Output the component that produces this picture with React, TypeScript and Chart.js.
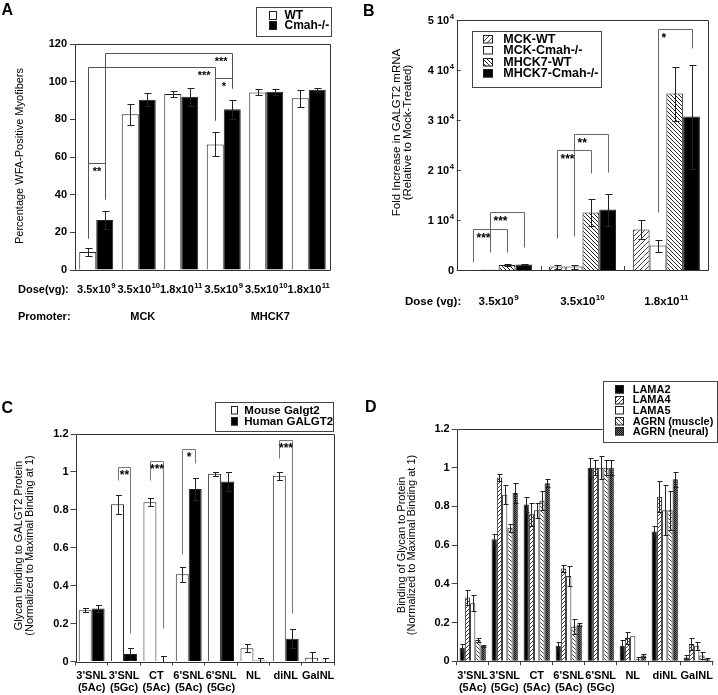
import React, { useEffect, useRef } from 'react';
import { Chart, registerables } from 'chart.js';
Chart.register(...registerables);

const FONT = '"Liberation Sans", Arimo, Arial, Helvetica, sans-serif';

// ---------------- Panel A data ----------------
const doseA = ['3.5x10^9', '3.5x10^10', '1.8x10^11', '3.5x10^9', '3.5x10^10', '1.8x10^11'];
const promoterA = ['MCK', 'MHCK7'];
const promoterGroupA = [1, 4];
const seriesA = ['WT', 'Cmah-/-'];
const wtA = [9.5, 82.7, 93.5, 66.7, 94.3, 91.2];
const wtErrA = [2, 5.6, 1.5, 6.4, 1.6, 4.6];
const cmahA = [26.5, 90.4, 92, 85.3, 94.7, 95.7];
const cmahErrA = [4.7, 3.4, 4.8, 5, 1.6, 1.1];
const yTitleA = ['Percentage WFA-Positive Myofibers'];
const sigA = [
  { a: [0, 0, 17], b: [1, 0, 37.7], top: 56.7, label: '**', align: 'center' },
  { a: [0, 0, 17], b: [0, 3, 79.5], top: 107.8, label: '***', align: 'right' },
  { a: [1, 0, 37.7], b: [1, 3, 96.5], top: 115.4, label: '***', align: 'right' },
  { a: [0, 3, 79.5], b: [1, 3, 96.5], top: 101.8, label: '*', align: 'center' },
];

// ---------------- Panel B data ----------------
const doseB = ['3.5x10^9', '3.5x10^10', '1.8x10^11'];
const seriesB = ['MCK-WT', 'MCK-Cmah-/-', 'MHCK7-WT', 'MHCK7-Cmah-/-'];
const mckWtB = [60, 700, 8100];
const mckWtErrB = [0, 400, 1900];
const mckCmahB = [80, 700, 4900];
const mckCmahErrB = [0, 400, 1200];
const mhWtB = [1000, 11500, 35300];
const mhWtErrB = [150, 2700, 5400];
const mhCmahB = [1100, 12100, 30700];
const mhCmahErrB = [100, 3200, 10400];
const yTitleB = ['Fold Increase in GALGT2 mRNA', '(Relative to Mock-Treated)'];
const sigB = [
  { a: [0, 0, 1660], b: [2, 0, 3660], top: 8140, label: '***', align: 'left' },
  { a: [1, 0, 3660], b: [3, 0, 4540], top: 11540, label: '***', align: 'left' },
  { a: [0, 1, 6340], b: [2, 1, 19340], top: 24000, label: '***', align: 'left' },
  { a: [1, 1, 6800], b: [3, 1, 19660], top: 27200, label: '**', align: 'left' },
  { a: [1, 2, 11660], b: [3, 2, 44340], top: 48140, label: '*', align: 'left' },
];

// ---------------- Panel C data ----------------
const glycans = [["3'SNL", '(5Ac)'], ["3'SNL", '(5Gc)'], ['CT', '(5Ac)'], ["6'SNL", '(5Ac)'], ["6'SNL", '(5Gc)'], 'NL', 'diNL', 'GalNL'];
const seriesC = ['Mouse Galgt2', 'Human GALGT2'];
const mouseC = [0.27, 0.83, 0.84, 0.46, 0.99, 0.07, 0.98, 0.02];
const mouseErrC = [0.01, 0.05, 0.02, 0.04, 0.01, 0.02, 0.02, 0.03];
const humanC = [0.28, 0.04, 0.0, 0.91, 0.95, 0.005, 0.12, 0.0];
const humanErrC = [0.02, 0.03, 0.03, 0.06, 0.05, 0.012, 0.05, 0.017];
const yTitleC = ['Glycan binding to GALGT2 Protein', '(Normalized to Maximal Binding at 1)'];
const sigC = [
  { a: [0, 1, 0.957], b: [1, 1, 0.152], top: 1.024, label: '**', align: 'center' },
  { a: [0, 2, 0.957], b: [1, 2, 0.176], top: 1.057, label: '***', align: 'center' },
  { a: [0, 3, 0.567], b: [1, 3, 1.045], top: 1.119, label: '*', align: 'center' },
  { a: [0, 6, 1.075], b: [1, 6, 0.254], top: 1.168, label: '***', align: 'center' },
];

// ---------------- Panel D data ----------------
const seriesD = ['LAMA2', 'LAMA4', 'LAMA5', 'AGRN (muscle)', 'AGRN (neural)'];
const lama2D = [0.07, 0.63, 0.81, 0.08, 1.0, 0.08, 0.67, 0.02];
const lama2ErrD = [0.02, 0.03, 0.04, 0.02, 0.05, 0.03, 0.03, 0.01];
const lama4D = [0.33, 0.95, 0.76, 0.48, 1.0, 0.12, 0.85, 0.09];
const lama4ErrD = [0.04, 0.02, 0.06, 0.02, 0.04, 0.03, 0.08, 0.03];
const lama5D = [0.3, 0.86, 0.78, 0.44, 1.0, 0.13, 0.78, 0.08];
const lama5ErrD = [0.04, 0.05, 0.04, 0.05, 0.06, 0, 0.13, 0.02];
const agrnMD = [0.11, 0.69, 0.83, 0.18, 1.0, 0.01, 0.78, 0.03];
const agrnMErrD = [0.01, 0.02, 0.05, 0.04, 0.04, 0.012, 0.1, 0.02];
const agrnND = [0.08, 0.87, 0.92, 0.19, 1.0, 0.03, 0.94, 0.01];
const agrnNErrD = [0.005, 0.05, 0.02, 0.01, 0.04, 0.01, 0.04, 0.007];
const yTitleD = ['Binding of Glycan to Protein', '(Normalized to Maximal Binding at 1)'];

// ---------------- helpers ----------------
const snap = (v: number) => Math.round(v) + 0.5;

function drawSup(ctx: any, text: string, x: number, y: number, align: string, size: number, weight: string) {
  const parts = String(text).split('^');
  const base = parts[0];
  const sup = parts[1] || '';
  const supSize = size * 0.7;
  ctx.font = `${weight} ${size}px ${FONT}`;
  const w1 = ctx.measureText(base).width;
  ctx.font = `${weight} ${supSize}px ${FONT}`;
  const w2 = sup ? ctx.measureText(sup).width + 0.5 : 0;
  const tot = w1 + w2;
  const sx = align === 'center' ? x - tot / 2 : align === 'right' ? x - tot : x;
  ctx.textAlign = 'left';
  ctx.textBaseline = 'alphabetic';
  ctx.fillStyle = '#000';
  ctx.font = `${weight} ${size}px ${FONT}`;
  ctx.fillText(base, sx, y);
  if (sup) {
    ctx.font = `${weight} ${supSize}px ${FONT}`;
    ctx.fillText(sup, sx + w1 + 0.5, y - size * 0.42);
  }
}

function hatch(ctx: any, size: number, dir: string, color: string) {
  const c = document.createElement('canvas');
  c.width = size;
  c.height = size;
  const g = c.getContext('2d')!;
  g.fillStyle = '#fff';
  g.fillRect(0, 0, size, size);
  g.strokeStyle = color;
  g.lineWidth = 1;
  g.beginPath();
  if (dir === '/') {
    g.moveTo(-1, size + 1); g.lineTo(size + 1, -1);
    g.moveTo(-1, 1); g.lineTo(1, -1);
    g.moveTo(size - 1, size + 1); g.lineTo(size + 1, size - 1);
  } else {
    g.moveTo(-1, -1); g.lineTo(size + 1, size + 1);
    g.moveTo(-1, size - 1); g.lineTo(1, size + 1);
    g.moveTo(size - 1, -1); g.lineTo(size + 1, 1);
  }
  g.stroke();
  return ctx.createPattern(c, 'repeat');
}

function checker(ctx: any) {
  const c = document.createElement('canvas');
  c.width = 2;
  c.height = 2;
  const g = c.getContext('2d')!;
  g.fillStyle = '#111';
  g.fillRect(0, 0, 2, 2);
  g.fillStyle = '#6a6a6a';
  g.fillRect(1, 0, 1, 1);
  g.fillRect(0, 1, 1, 1);
  return ctx.createPattern(c, 'repeat');
}

const decor = {
  id: 'decor',
  afterDatasetsDraw(chart: any, _a: any, o: any) {
    const ctx = chart.ctx;
    const ys = chart.scales.y;
    ctx.save();
    ctx.strokeStyle = '#222';
    ctx.lineWidth = 1;
    (o.errors || []).forEach((errs: number[], di: number) => {
      const meta = chart.getDatasetMeta(di);
      const vals = chart.data.datasets[di].data as number[];
      errs.forEach((e, i) => {
        if (!e) return;
        const x = snap(meta.data[i].x);
        const y1 = snap(ys.getPixelForValue(vals[i] + e));
        const y2 = snap(ys.getPixelForValue(Math.max(0, vals[i] - e)));
        const c = o.cap;
        ctx.beginPath();
        ctx.moveTo(x, y1); ctx.lineTo(x, y2);
        ctx.moveTo(x - c, y1); ctx.lineTo(x + c + 1, y1);
        ctx.moveTo(x - c, y2); ctx.lineTo(x + c + 1, y2);
        ctx.stroke();
      });
    });
    ctx.restore();
  },
  afterDraw(chart: any, _a: any, o: any) {
    const ctx = chart.ctx;
    const ca = chart.chartArea;
    const xs = chart.scales.x;
    const ys = chart.scales.y;
    ctx.save();
    ctx.lineWidth = 1;
    if (o.innerTicks) {
      ctx.strokeStyle = '#444';
      ctx.beginPath();
      const n = chart.data.labels.length;
      for (let i = 1; i < n; i++) {
        const x = snap((xs.getPixelForValue(i - 1) + xs.getPixelForValue(i)) / 2);
        ctx.moveTo(x, ca.bottom);
        ctx.lineTo(x, ca.bottom - o.innerTicks);
      }
      ys.ticks.forEach((t: any) => {
        const y = snap(ys.getPixelForValue(t.value));
        ctx.moveTo(ca.left, y);
        ctx.lineTo(ca.left + o.innerTicks, y);
      });
      ctx.stroke();
    }
    if (o.frame) {
      const l = snap(ca.left), r = snap(ca.right), t = snap(ca.top), b = snap(ca.bottom);
      ctx.strokeStyle = '#333';
      ctx.beginPath();
      if (o.frame.includes('t')) { ctx.moveTo(l, t); ctx.lineTo(r, t); }
      if (o.frame.includes('r')) { ctx.moveTo(r, t); ctx.lineTo(r, b); }
      if (o.frame.includes('b')) { ctx.moveTo(l, b); ctx.lineTo(r, b); }
      if (o.frame.includes('l')) { ctx.moveTo(l, t); ctx.lineTo(l, b); }
      ctx.stroke();
    }
    (o.brackets || []).forEach((br: any) => {
      const pa = snap(chart.getDatasetMeta(br.a[0]).data[br.a[1]].x);
      const pb = snap(chart.getDatasetMeta(br.b[0]).data[br.b[1]].x);
      const yt = snap(ys.getPixelForValue(br.top));
      const ya = snap(ys.getPixelForValue(br.a[2]));
      const yb = snap(ys.getPixelForValue(br.b[2]));
      ctx.strokeStyle = o.bracketColor;
      ctx.beginPath();
      ctx.moveTo(pa, ya); ctx.lineTo(pa, yt); ctx.lineTo(pb, yt); ctx.lineTo(pb, yb);
      ctx.stroke();
      ctx.font = `bold ${o.starSize}px ${FONT}`;
      const m = ctx.measureText(br.label);
      const w = m.width;
      const lx = br.align === 'left' ? pa + o.starGap : br.align === 'right' ? pb - o.starGap - w : (pa + pb) / 2 - w / 2;
      const cy = yt + o.starDy;
      const base = cy + (m.actualBoundingBoxAscent - m.actualBoundingBoxDescent) / 2;
      ctx.fillStyle = '#000';
      ctx.textAlign = 'left';
      ctx.textBaseline = 'alphabetic';
      ctx.fillText(br.label, lx, base);
    });
    if (o.yTickSup) {
      ys.ticks.forEach((t: any) => {
        drawSup(ctx, t.label, o.yTickSup.x, ys.getPixelForValue(t.value) + o.yTickSup.dy, 'right', o.yTickSup.size, 'bold');
      });
    }
    if (o.xSup) {
      chart.data.labels.forEach((lab: string, i: number) => {
        drawSup(ctx, lab, xs.getPixelForValue(i), o.xSup.y, 'center', o.xSup.size, o.xSup.weight);
      });
    }
    (o.rows || []).forEach((r: any) => {
      ctx.font = `bold ${o.rowSize}px ${FONT}`;
      ctx.fillStyle = '#000';
      ctx.textAlign = 'left';
      ctx.textBaseline = 'alphabetic';
      ctx.fillText(r.text, r.x, r.y);
    });
    if (o.groups) {
      const G = o.groups;
      ctx.font = `bold ${G.size}px ${FONT}`;
      ctx.fillStyle = '#000';
      ctx.textAlign = 'center';
      ctx.textBaseline = 'alphabetic';
      G.labels.forEach((s: string, i: number) => {
        ctx.fillText(s, xs.getPixelForValue(G.at[i]) + G.dx, G.y);
      });
    }
    if (o.yTitle) {
      const T = o.yTitle;
      ctx.font = `${T.size}px ${FONT}`;
      ctx.fillStyle = '#000';
      ctx.textAlign = 'center';
      ctx.textBaseline = 'middle';
      T.lines.forEach((s: string, i: number) => {
        ctx.save();
        ctx.translate(T.x[i], T.y);
        ctx.rotate(-Math.PI / 2);
        ctx.fillText(s, 0, 0);
        ctx.restore();
      });
    }
    if (o.letter) {
      ctx.font = `bold ${o.letter.size}px ${FONT}`;
      ctx.fillStyle = '#000';
      ctx.textAlign = 'left';
      ctx.textBaseline = 'alphabetic';
      ctx.fillText(o.letter.text, o.letter.x, o.letter.y);
    }
    if (o.legend) {
      const L = o.legend;
      const [x1, y1, x2, y2] = L.box;
      ctx.fillStyle = '#fff';
      ctx.fillRect(x1, y1, x2 - x1, y2 - y1);
      ctx.strokeStyle = '#444';
      ctx.strokeRect(snap(x1), snap(y1), Math.round(x2 - x1), Math.round(y2 - y1));
      chart.data.datasets.forEach((ds: any, i: number) => {
        const cy = L.rows[i];
        const sx = Math.round(L.swX);
        const sy = Math.round(cy - L.swH / 2);
        ctx.fillStyle = ds.backgroundColor;
        ctx.fillRect(sx, sy, L.swW, L.swH);
        ctx.strokeStyle = '#222';
        ctx.strokeRect(sx + 0.5, sy + 0.5, L.swW - 1, L.swH - 1);
        ctx.fillStyle = '#000';
        ctx.font = `bold ${L.size}px ${FONT}`;
        ctx.textAlign = 'left';
        ctx.textBaseline = 'middle';
        ctx.fillText(ds.label, L.textX, cy + 0.5);
      });
    }
    ctx.restore();
  },
};

const bar = (label: string, data: number[], fill: any) => ({
  label,
  data,
  backgroundColor: fill,
  borderColor: '#222',
  borderWidth: 1,
});

function makeConfig(p: any) {
  const xScale: any = {
    grid: p.xGrid
      ? { display: true, offset: true, drawOnChartArea: false, drawTicks: true, tickLength: 4, color: '#444', lineWidth: 1 }
      : { display: false },
    border: { display: false },
    ticks: p.xTicks
      ? { display: true, autoSkip: false, maxRotation: 0, minRotation: 0, padding: 5, color: '#000', font: { family: FONT, size: 11, weight: 'bold', lineHeight: 1.05 } }
      : { display: false },
    afterFit: (s: any) => { s.height = p.xHeight; },
  };
  const yScale: any = {
    min: p.y.min,
    max: p.y.max,
    grid: p.y.inner
      ? { display: false }
      : { display: true, drawOnChartArea: false, drawTicks: true, tickLength: 5, color: '#444', lineWidth: 1 },
    border: { display: false },
    ticks: {
      display: !p.y.custom,
      stepSize: p.y.step,
      padding: p.y.pad,
      color: '#000',
      font: { family: FONT, size: p.y.size, weight: 'bold' },
      callback: p.y.cb,
    },
    afterFit: (s: any) => { s.width = p.y.width; },
  };
  return {
    type: 'bar',
    data: { labels: p.labels, datasets: p.datasets },
    options: {
      responsive: false,
      animation: false,
      devicePixelRatio: 1,
      events: [],
      layout: { padding: { top: p.padTop, right: p.padRight, left: 0, bottom: 0 } },
      datasets: { bar: { categoryPercentage: p.catPct, barPercentage: 1 } },
      scales: { x: xScale, y: yScale },
      plugins: { legend: { display: false }, tooltip: { enabled: false }, decor: p.decor },
    },
    plugins: [decor],
  };
}

const dec1 = (v: number) => String(Math.round(v * 10) / 10);

function configA(_ctx: any) {
  return makeConfig({
    labels: doseA,
    datasets: [bar(seriesA[0], wtA, '#fff'), bar(seriesA[1], cmahA, '#000')],
    y: { min: 0, max: 120, step: 20, width: 75, pad: 3, size: 11, cb: (v: number) => String(v) },
    xHeight: 80, padTop: 44, padRight: 30, catPct: 0.8,
    decor: {
      errors: [wtErrA, cmahErrA], cap: 3, frame: 'trbl',
      brackets: sigA, bracketColor: '#555', starSize: 11, starDy: 5.8, starGap: 5,
      xSup: { y: 293, size: 11, weight: 'bold' },
      rows: [{ text: 'Dose(vg):', x: 18, y: 293 }, { text: 'Promoter:', x: 18, y: 319.5 }], rowSize: 11,
      groups: { labels: promoterA, at: promoterGroupA, dx: 4, y: 319.5, size: 11 },
      yTitle: { lines: yTitleA, x: [20], y: 156, size: 11 },
      letter: { text: 'A', x: 1.5, y: 15, size: 16 },
      legend: { box: [255.5, 6.5, 330, 35.5], swX: 269, swW: 8, swH: 9, textX: 284.5, rows: [15.3, 25.3], size: 12 },
    },
  });
}

function configB(ctx: any) {
  return makeConfig({
    labels: doseB,
    datasets: [
      bar(seriesB[0], mckWtB, hatch(ctx, 5, '/', '#444')),
      bar(seriesB[1], mckCmahB, '#fff'),
      bar(seriesB[2], mhWtB, hatch(ctx, 4, '\\', '#222')),
      bar(seriesB[3], mhCmahB, '#000'),
    ],
    y: { min: 0, max: 50000, step: 10000, width: 96.7, pad: 3, size: 11, custom: true, inner: true,
      cb: (v: number) => (v === 0 ? '0' : `${v / 10000} 10^4`) },
    xHeight: 80, padTop: 20, padRight: 9.7, catPct: 0.8,
    decor: {
      errors: [mckWtErrB, mckCmahErrB, mhWtErrB, mhCmahErrB], cap: 3, frame: 'trbl', innerTicks: 4,
      yTickSup: { x: 94, dy: 4, size: 11 },
      brackets: sigB, bracketColor: '#666', starSize: 12, starDy: 5.5, starGap: 3,
      xSup: { y: 305, size: 11.5, weight: 'bold' },
      rows: [{ text: 'Dose (vg):', x: 45, y: 305 }], rowSize: 11.5,
      yTitle: { lines: yTitleB, x: [37, 47.5], y: 132.5, size: 11.5 },
      letter: { text: 'B', x: 3, y: 15.5, size: 16 },
      legend: { box: [111.7, 30.7, 240.7, 86.7], swX: 123.3, swW: 10, swH: 8.5, textX: 143.3, rows: [39.5, 50.5, 61.8, 73.3], size: 12.5 },
    },
  });
}

function configC(_ctx: any) {
  return makeConfig({
    labels: glycans,
    datasets: [bar(seriesC[0], mouseC, '#fff'), bar(seriesC[1], humanC, '#000')],
    y: { min: 0, max: 1.2, step: 0.2, width: 75.5, pad: 2, size: 11, cb: dec1 },
    xHeight: 33.5, padTop: 84, padRight: 25.7, catPct: 0.8, xGrid: true, xTicks: true,
    decor: {
      errors: [mouseErrC, humanErrC], cap: 2.5, frame: 'trbl',
      brackets: sigC, bracketColor: '#777', starSize: 12, starDy: 5, starGap: 2,
      yTitle: { lines: yTitleC, x: [18.5, 29.5], y: 195.5, size: 11 },
      letter: { text: 'C', x: 1.5, y: 62.5, size: 16 },
      legend: { box: [215, 52.3, 333.3, 81], swX: 230.5, swW: 7, swH: 8.5, textX: 244.3, rows: [60.5, 71.5], size: 11.5 },
    },
  });
}

function configD(ctx: any) {
  return makeConfig({
    labels: glycans,
    datasets: [
      bar(seriesD[0], lama2D, '#000'),
      bar(seriesD[1], lama4D, hatch(ctx, 4, '/', '#444')),
      bar(seriesD[2], lama5D, '#fff'),
      bar(seriesD[3], agrnMD, hatch(ctx, 4, '\\', '#444')),
      bar(seriesD[4], agrnND, checker(ctx)),
    ],
    y: { min: 0, max: 1.2, step: 0.2, width: 96.7, pad: 2, size: 11, cb: dec1 },
    xHeight: 33.7, padTop: 79, padRight: 1, catPct: 0.82, xGrid: true, xTicks: true,
    decor: {
      errors: [lama2ErrD, lama4ErrD, lama5ErrD, agrnMErrD, agrnNErrD], cap: 2, frame: 'tlb',
      yTitle: { lines: yTitleD, x: [41.7, 51.7], y: 195, size: 11 },
      letter: { text: 'D', x: 5, y: 62, size: 16 },
      legend: { box: [242.7, 31, 356.7, 92.3], swX: 255, swW: 9, swH: 8.5, textX: 272.7, rows: [39.3, 49.9, 60.5, 71.1, 81.7], size: 11 },
    },
  });
}

function ChartCanvas({ x, y, w, h, make }: any) {
  const ref = useRef<HTMLCanvasElement>(null);
  useEffect(() => {
    const canvas = ref.current!;
    const chart = new Chart(canvas, make(canvas.getContext('2d')) as any);
    return () => chart.destroy();
  }, []);
  return (
    <canvas
      ref={ref}
      width={w}
      height={h}
      style={{ position: 'absolute', left: x, top: y, width: w, height: h }}
    />
  );
}

export default function App() {
  return (
    <div style={{ position: 'absolute', left: 0, top: 0, width: 718, height: 695, background: '#fff', overflow: 'hidden' }}>
      <ChartCanvas x={0} y={0} w={360} h={350} make={configA} />
      <ChartCanvas x={360} y={0} w={358} h={350} make={configB} />
      <ChartCanvas x={0} y={350} w={360} h={345} make={configC} />
      <ChartCanvas x={360} y={350} w={358} h={345} make={configD} />
    </div>
  );
}
